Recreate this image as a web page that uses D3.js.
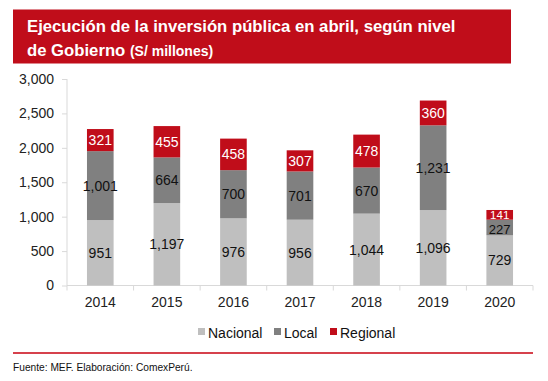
<!DOCTYPE html>
<html>
<head>
<meta charset="utf-8">
<script src="https://cdn.jsdelivr.net/npm/d3@7"></script>
<style>
  body { margin: 0; background: #fff; }
  svg { font-family: Arial, "Liberation Sans", sans-serif; }
</style>
</head>
<body>
<div id="chart"></div>
<script>
var years = ["2014", "2015", "2016", "2017", "2018", "2019", "2020"];
var nacional = [951, 1197, 976, 956, 1044, 1096, 729];
var local = [1001, 664, 700, 701, 670, 1231, 227];
var regional = [321, 455, 458, 307, 478, 360, 141];
var seriesNames = ["Nacional", "Local", "Regional"];
var yTicks = [0, 500, 1000, 1500, 2000, 2500, 3000];

plot_stacked_bars("#chart");

function plot_stacked_bars(htmlObjectId) {
    var width = 548;
    var height = 381;
    var colors = {Nacional: "#bfbfbf", Local: "#808080", Regional: "#c00d1a"};
    var labelColors = {Nacional: "#111", Local: "#111", Regional: "#fff"};

    var svg = d3.select(htmlObjectId)
                .append("svg")
                .attr("width", width)
                .attr("height", height);

    // title box
    svg.append("rect")
        .attr("x", 13).attr("y", 9.5)
        .attr("width", 498).attr("height", 54)
        .attr("fill", "#c00d1a");

    var title = svg.append("text")
        .attr("fill", "#fff")
        .attr("font-weight", "bold");
    title.append("tspan").attr("x", 27).attr("y", 32)
        .attr("font-size", 16.7)
        .text("Ejecución de la inversión pública en abril, según nivel");
    var l2 = title.append("tspan").attr("x", 27).attr("y", 55.5);
    l2.append("tspan").attr("font-size", 16.7).text("de Gobierno ");
    l2.append("tspan").attr("font-size", 14).text("(S/ millones)");

    var table = years.map(function(y, i) {
        return {year: y, Nacional: nacional[i], Local: local[i], Regional: regional[i]};
    });
    var stack = d3.stack().keys(seriesNames)(table);

    var x = d3.scaleBand()
              .domain(years)
              .range([67, 533])
              .paddingInner(0.6)
              .paddingOuter(0.3);

    var y = d3.scaleLinear()
              .domain([0, 3000])
              .range([285.5, 79]);

    // y axis
    var yAxis = svg.append("g")
        .attr("transform", "translate(67,0)")
        .call(d3.axisLeft(y).tickValues(yTicks).tickSize(5).tickPadding(8)
              .tickFormat(d3.format(",")));
    yAxis.selectAll("text").attr("font-size", 14).attr("fill", "#222")
        .attr("font-family", "Arial, 'Liberation Sans', sans-serif");
    yAxis.selectAll("line, path").attr("stroke", "#d9d9d9");
    yAxis.select(".domain").attr("d", "M0," + y(3000) + "V" + y(0));

    // x axis
    var xAxis = svg.append("g")
        .attr("transform", "translate(0," + y(0) + ")")
        .call(d3.axisBottom(x).tickSize(0).tickPadding(12));
    xAxis.selectAll("text").attr("font-size", 14).attr("fill", "#222")
        .attr("font-family", "Arial, 'Liberation Sans', sans-serif");
    xAxis.select(".domain").attr("stroke", "#d9d9d9").attr("d", "M67,0H533");
    var step = x.step();
    xAxis.selectAll(".sep")
        .data(d3.range(years.length + 1))
        .enter().append("line")
        .attr("x1", function(d) { return 67 + d * step; })
        .attr("x2", function(d) { return 67 + d * step; })
        .attr("y1", 0).attr("y2", 5)
        .attr("stroke", "#d9d9d9");

    // bars
    var groups = svg.selectAll(".series")
        .data(stack)
        .enter().append("g")
        .attr("fill", function(d) { return colors[d.key]; });

    groups.selectAll("rect")
        .data(function(d) { return d; })
        .enter().append("rect")
        .attr("x", function(d) { return x(d.data.year); })
        .attr("width", x.bandwidth())
        .attr("y", function(d) { return y(d[1]); })
        .attr("height", function(d) { return y(d[0]) - y(d[1]); });

    // labels (smaller text where the segment is thin)
    function segH(d) { return y(d[0]) - y(d[1]); }
    function labelSize(d) { var h = segH(d); return h < 12 ? 11.5 : (h < 18 ? 13 : 14); }
    function labelShift(d) { var h = segH(d); return h < 12 ? 3.9 : (h < 18 ? 6 : 5); }
    stack.forEach(function(s) {
        svg.append("g").selectAll("text")
            .data(s)
            .enter().append("text")
            .attr("x", function(d) { return x(d.data.year) + x.bandwidth() / 2; })
            .attr("y", function(d) { return (y(d[0]) + y(d[1])) / 2 + labelShift(d); })
            .attr("text-anchor", "middle")
            .attr("font-size", labelSize)
            .attr("fill", labelColors[s.key])
            .text(function(d) { return d3.format(",")(d.data[s.key]); });
    });

    // legend
    var legendX = [198, 274, 330];
    var legend = svg.append("g");
    seriesNames.forEach(function(n, i) {
        legend.append("rect")
            .attr("x", legendX[i]).attr("y", 328)
            .attr("width", 7).attr("height", 7)
            .attr("fill", colors[n]);
        legend.append("text")
            .attr("x", legendX[i] + 10).attr("y", 338)
            .attr("font-size", 14).attr("fill", "#111")
            .text(n);
    });

    // bottom line and source
    svg.append("line")
        .attr("x1", 13).attr("x2", 533)
        .attr("y1", 353).attr("y2", 353)
        .attr("stroke", "#d6414c").attr("stroke-width", 2);

    svg.append("text")
        .attr("x", 13).attr("y", 371)
        .attr("font-size", 10.2).attr("fill", "#111")
        .text("Fuente: MEF. Elaboración: ComexPerú.");
}
</script>
</body>
</html>
